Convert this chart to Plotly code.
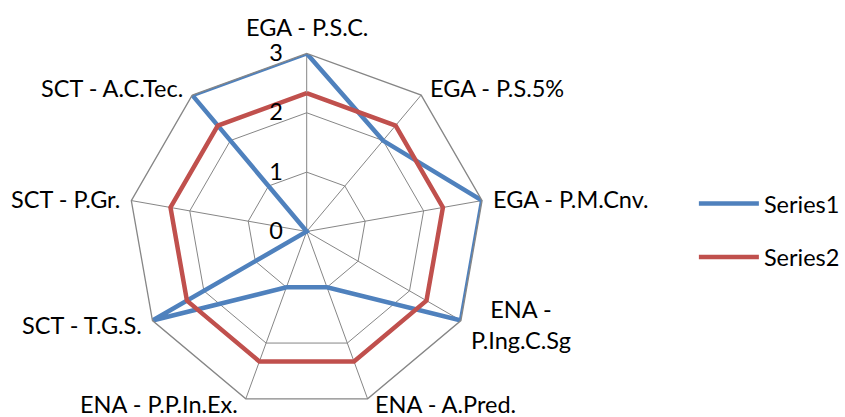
import math
import plotly.graph_objects as go

# Radar axes, clockwise from the top
categories = [
    "EGA - P.S.C.",
    "EGA - P.S.5%",
    "EGA - P.M.Cnv.",
    "ENA -<br>P.Ing.C.Sg",
    "ENA - A.Pred.",
    "ENA - P.P.In.Ex.",
    "SCT - T.G.S.",
    "SCT - P.Gr.",
    "SCT - A.C.Tec.",
]
series1 = [3, 2, 3, 3, 1, 1, 3, 0, 3]
series2 = [2.33, 2.33, 2.33, 2.33, 2.33, 2.33, 2.33, 2.33, 2.33]
radial_ticks = [0, 1, 2, 3]
r_max = 3

FONT = "Lato"
FSIZE = 23.5
BLUE = "#4F81BD"
RED = "#C0504D"
GRID = "#868686"


def closed(values):
    return list(values) + [values[0]]


fig = go.Figure()
fig.add_trace(go.Scatterpolar(
    r=closed(series1), theta=closed(categories), mode="lines",
    name="Series1", line=dict(color=BLUE, width=4.5),
    legendgroup="s1",
))
fig.add_trace(go.Scatterpolar(
    r=closed(series2), theta=closed(categories), mode="lines",
    name="Series2", line=dict(color=RED, width=4.5),
    legendgroup="s2",
))

# Page size and polar placement (pixels)
W, H = 845, 417
cx, cy, R = 310, 231.5, 180

# Category labels sit just beyond each outer vertex of the grid
annotations = []
n = len(categories)
for i, label in enumerate(categories):
    ang = math.radians(360 * i / n)
    s, c = math.sin(ang), math.cos(ang)
    vx, vy = cx + R * s, cy - R * c
    if abs(s) < 0.1:
        px, py, anchor = vx, vy - 25, "center"
    else:
        gap = 4 + 5 * abs(s)
        px = vx + gap if s > 0 else vx - gap
        py = vy - 7 * c if c > -0.9 else vy + 3
        anchor = "left" if s > 0 else "right"
    annotations.append(dict(
        text=label, x=px / W, y=1 - py / H, xref="paper", yref="paper",
        xanchor=anchor, yanchor="middle", align="center", showarrow=False,
        font=dict(family=FONT, size=FSIZE, color="black"),
    ))

fig.update_layout(
    width=W, height=H,
    margin=dict(l=0, r=0, t=0, b=0),
    paper_bgcolor="white",
    font=dict(family=FONT, size=FSIZE, color="black"),
    annotations=annotations,
    polar=dict(
        domain=dict(x=[(cx - R) / W, (cx + R) / W],
                    y=[(H - cy - R) / H, (H - cy + R) / H]),
        bgcolor="white",
        gridshape="linear",
        angularaxis=dict(
            rotation=90, direction="clockwise",
            categoryorder="array", categoryarray=categories,
            showline=True, linecolor=GRID, linewidth=1.3,
            gridcolor=GRID, gridwidth=1.3,
            ticks="", showticklabels=False,
        ),
        radialaxis=dict(
            range=[0, r_max], tickvals=radial_ticks, angle=90, tickangle=90,
            side="counterclockwise",
            showline=False, gridcolor=GRID, gridwidth=1.3,
            ticks="outside", ticklen=15, tickcolor="rgba(0,0,0,0)",
            tickfont=dict(family=FONT, size=FSIZE),
        ),
    ),
    showlegend=True,
    legend=dict(
        x=0.83, y=0.447, xanchor="left", yanchor="middle",
        traceorder="grouped", tracegroupgap=20,
        font=dict(family=FONT, size=FSIZE),
        itemwidth=60,
    ),
)

fig.write_html("out.html")
